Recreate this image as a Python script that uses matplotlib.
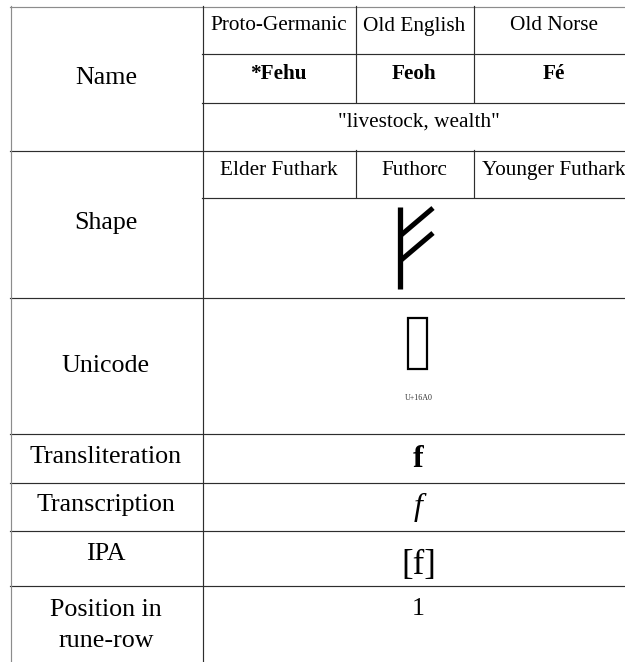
import matplotlib
matplotlib.use("Agg")
from matplotlib import pyplot as plt
from matplotlib.patches import Rectangle

# table content
row_labels = ["Name", "Shape", "Unicode", "Transliteration", "Transcription", "IPA", "Position in\nrune-row"]
languages = ["Proto-Germanic", "Old English", "Old Norse"]
rune_names = ["*Fehu", "Feoh", "Fé"]
meaning = '"livestock, wealth"'
scripts = ["Elder Futhark", "Futhorc", "Younger Futhark"]
rune_char = "ᚠ"   # no installed font has Runic -> shown as a missing-glyph box
transliteration = "f"
transcription = "f"
ipa = "[f]"
position = "1"

# layout (pixels, figure is 625 x 662)
W, H = 625, 662
x_left, x_split, x_right = 10, 202, 635
sub_cols = [202, 355, 473, 635]
row_lines = [6, 150, 297, 433, 482, 530, 585]
label_base = [84, 229, 372, 463, 511, 560, 616]
serif = "Liberation Serif"
dark = "#2e2e2e"
grey = "#8c8c8c"

fig = plt.figure(figsize=(W / 100, H / 100), dpi=100)
ax = fig.add_axes([0, 0, 1, 1])
ax.set_xlim(0, W)
ax.set_ylim(H, 0)
ax.axis("off")

lw = 0.85

# grid
for i, y in enumerate(row_lines):
    ax.plot([x_left, W], [y + 0.5, y + 0.5], color=grey if i == 0 else dark, lw=lw)
for y in [53, 102, 197]:
    ax.plot([x_split, W], [y + 0.5, y + 0.5], color=dark, lw=lw)
ax.plot([x_left + 0.5, x_left + 0.5], [6, H], color=grey, lw=lw)
ax.plot([x_split + 0.5, x_split + 0.5], [6, H], color=dark, lw=lw)
for x in sub_cols[1:3]:
    ax.plot([x + 0.5, x + 0.5], [6, 102], color=dark, lw=lw)
    ax.plot([x + 0.5, x + 0.5], [150, 197], color=dark, lw=lw)

# row labels
lab_x = (x_left + x_split) / 2
for lab, yb in zip(row_labels, label_base):
    for k, line in enumerate(lab.split("\n")):
        ax.text(lab_x, yb + 31 * k, line, ha="center", va="baseline", family=serif,
                fontsize=18.7, color="black")

# Name block
centres = [(sub_cols[i] + sub_cols[i + 1]) / 2 for i in range(3)]
for cx, lang, nm, sc in zip(centres, languages, rune_names, scripts):
    ax.text(cx, 30.5, lang, ha="center", va="baseline", family=serif, fontsize=15.3)
    ax.text(cx, 79, nm, ha="center", va="baseline", family=serif, fontsize=15.3,
            fontweight="bold")
    ax.text(cx, 175, sc, ha="center", va="baseline", family=serif, fontsize=15.3)

mid = (x_split + x_right) / 2
ax.text(mid, 127, meaning, ha="center", va="baseline", family=serif, fontsize=15.3)

# rune picture (Elder Futhark fehu)
ax.plot([400, 400], [207, 289], color="black", lw=3.8, solid_capstyle="butt")
ax.plot([400, 433], [236, 208], color="black", lw=3.6, solid_capstyle="butt")
ax.plot([400, 433], [261, 233], color="black", lw=3.6, solid_capstyle="butt")

# unicode: missing-glyph box + code point
ax.add_patch(Rectangle((408, 318), 19, 51, fill=False, ec="black", lw=1.6))
ax.text(mid, 400, "U+%04X" % ord(rune_char), ha="center", va="baseline",
        family=serif, fontsize=5.8, color="#333333")

# values
ax.text(mid, 467, transliteration, ha="center", va="baseline", family=serif,
        fontsize=23, fontweight="bold")
ax.text(mid, 515, transcription, ha="center", va="baseline", family=serif,
        fontsize=23, fontstyle="italic")
ax.text(mid, 574, ipa, ha="center", va="baseline", family=serif, fontsize=25)
ax.text(mid, 615, position, ha="center", va="baseline", family=serif, fontsize=18.7)

fig.savefig("out.png", dpi=100)
